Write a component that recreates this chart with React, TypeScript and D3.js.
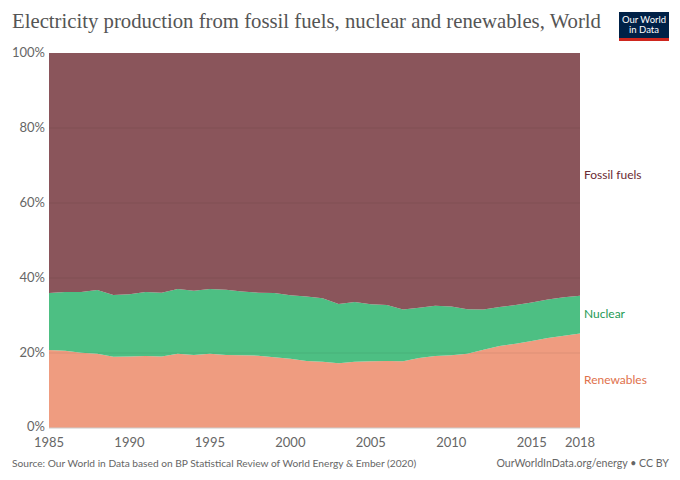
import React from "react";
import * as d3 from "d3";

const years = d3.range(1985, 2019);
const renewables = [20.8, 20.6, 20.1, 19.8, 19.0, 19.1, 19.2, 19.1, 19.8, 19.5, 19.8, 19.5, 19.4, 19.3, 18.9, 18.5, 17.9, 17.7, 17.3, 17.7, 17.8, 17.9, 17.8, 18.7, 19.2, 19.4, 19.8, 20.9, 21.9, 22.5, 23.2, 24.0, 24.6, 25.2];
const lowCarbonTotal = [36.0, 36.3, 36.3, 36.8, 35.5, 35.7, 36.3, 36.1, 37.1, 36.6, 37.1, 36.9, 36.4, 36.1, 36.0, 35.4, 35.1, 34.6, 33.1, 33.6, 33.0, 32.8, 31.6, 32.1, 32.6, 32.4, 31.7, 31.6, 32.3, 32.8, 33.5, 34.3, 34.9, 35.3];
const nuclear = lowCarbonTotal.map((t, i) => +(t - renewables[i]).toFixed(1));
const fossil = lowCarbonTotal.map((t) => +(100 - t).toFixed(1));

const seriesNames = ["Renewables", "Nuclear", "Fossil fuels"];
const seriesColors = ["#ef9c80", "#4dbf83", "#8a555b"];
const labelColors = ["#e0714c", "#1e9a55", "#6b2a33"];
const yTicks = [0, 20, 40, 60, 80, 100];
const xTicks = [1985, 1990, 1995, 2000, 2005, 2010, 2015, 2018];

export default function App() {
  const W = 680, H = 480;
  const left = 49, right = 580, top = 53, bottom = 428;
  const x = d3.scaleLinear().domain([1985, 2018]).range([left, right]);
  const y = d3.scaleLinear().domain([0, 100]).range([bottom, top]);

  const rows = years.map((yr, i) => ({
    year: yr,
    Renewables: renewables[i],
    Nuclear: nuclear[i],
    "Fossil fuels": fossil[i],
  }));
  const stack = d3.stack<any>().keys(seriesNames);
  const stacked = stack(rows);
  const area = d3
    .area<any>()
    .x((d) => x(d.data.year))
    .y0((d) => y(d[0]))
    .y1((d) => y(Math.min(100, d[1])));

  const labelY = [380, 314, 175];
  const font = "Lato, 'Noto Sans', sans-serif";

  return (
    <svg width={W} height={H} style={{ display: "block", position: "absolute", left: 0, top: 0 }}>
      <rect width={W} height={H} fill="#fff" />
      <text x={12} y={28} fontFamily="'Liberation Serif', 'DejaVu Serif', serif" fontSize={21.5} fill="#555" textLength={589} lengthAdjust="spacingAndGlyphs">
        Electricity production from fossil fuels, nuclear and renewables, World
      </text>
      <g>
        <rect x={619} y={12} width={50} height={29} fill="#002147" />
        <rect x={619} y={38} width={50} height={3} fill="#ce261e" />
        <text x={644} y={23} textAnchor="middle" fontFamily={font} fontSize={9.5} fill="#fff">Our World</text>
        <text x={644} y={33} textAnchor="middle" fontFamily={font} fontSize={9.5} fill="#fff">in Data</text>
      </g>
      {stacked.map((s, i) => (
        <path key={s.key} d={area(s) || ""} fill={seriesColors[i]} />
      ))}
      {yTicks.map((t) => (
        <g key={t}>
          {t > 0 && t < 100 && (
            <line x1={left} x2={right} y1={y(t)} y2={y(t)} stroke="#000" strokeOpacity={0.07} />
          )}
          <text x={45} y={y(t) + (t === 0 ? 2.5 : 4)} textAnchor="end" fontFamily={font} fontSize={13} fill="#666">
            {t}%
          </text>
        </g>
      ))}
      <line x1={left} x2={right} y1={bottom} y2={bottom} stroke="#ccc" />
      {xTicks.map((t) => (
        <text key={t} x={x(t)} y={447} textAnchor="middle" fontFamily={font} fontSize={13} fill="#666">
          {t}
        </text>
      ))}
      {seriesNames.map((n, i) => (
        <text key={n} x={584} y={labelY[i] + 4} fontFamily={font} fontSize={12} fill={labelColors[i]}>
          {n}
        </text>
      ))}
      <text x={12} y={467} fontFamily={font} fontSize={10.2} fill="#666">
        Source: Our World in Data based on BP Statistical Review of World Energy &amp; Ember (2020)
      </text>
      <text x={669} y={467} textAnchor="end" fontFamily={font} fontSize={10.6} fill="#666">
        OurWorldInData.org/energy • CC BY
      </text>
    </svg>
  );
}
